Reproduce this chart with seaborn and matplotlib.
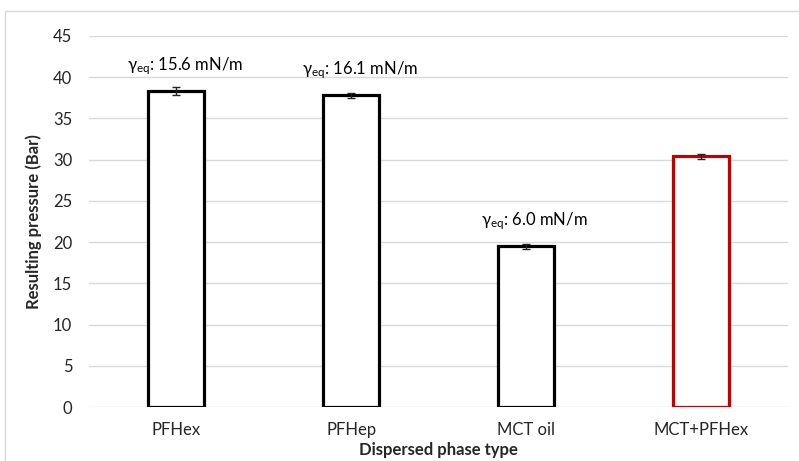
import pandas as pd
import seaborn as sns
import matplotlib.pyplot as plt
import matplotlib.patches as mpatches

# --- data ---
phases = ["PFHex", "PFHep", "MCT oil", "MCT+PFHex"]
pressure = [38.3, 37.8, 19.5, 30.4]
pressure_err = [0.5, 0.3, 0.3, 0.3]
edge_colors = ["black", "black", "black", "#C00000"]
gamma_labels = ["15.6", "16.1", "6.0", None]

df = pd.DataFrame({"phase": phases, "pressure": pressure})

sns.set_style("white")
plt.rcParams["font.family"] = ["Lato", "DejaVu Sans"]
plt.rcParams["mathtext.fontset"] = "custom"
plt.rcParams["mathtext.rm"] = "Lato"
plt.rcParams["mathtext.it"] = "Lato:italic"
plt.rcParams["mathtext.bf"] = "Lato:bold"

fig = plt.figure(figsize=(7.99, 4.61), dpi=100)
ax = fig.add_axes([89 / 799, 1 - 407 / 461, 699 / 799, 371 / 461])

sns.barplot(data=df, x="phase", y="pressure", color="white",
            width=0.32, errorbar=None, ax=ax, zorder=3)

for bar, ec in zip(ax.patches, edge_colors):
    bar.set_facecolor("white")
    bar.set_edgecolor(ec)
    bar.set_linewidth(2.3)

ax.errorbar(range(len(phases)), pressure, yerr=pressure_err, fmt="none",
            ecolor="#222222", elinewidth=1, capsize=3, capthick=1, zorder=4)

# surface tension notes
for i, (val, g) in enumerate(zip(pressure, gamma_labels)):
    if g is None:
        continue
    ax.text(i + 0.05, val + 3.0, r"$\mathrm{\gamma}_{\mathrm{eq}}$: " + g + " mN/m",
            ha="center", va="center", fontsize=12, color="black")

ax.set_ylim(0, 45)
ax.set_yticks(range(0, 46, 5))
ax.set_xlim(-0.5, 3.5)
ax.yaxis.grid(True, color="#d9d9d9", linewidth=1)
ax.set_axisbelow(True)
for s in ax.spines.values():
    s.set_visible(False)
ax.tick_params(axis="both", length=0, labelsize=12)
ax.tick_params(axis="y", pad=12)
ax.tick_params(axis="x", pad=11)

ax.set_ylabel("Resulting pressure (Bar)", fontsize=12, fontweight="bold", labelpad=8)
ax.set_xlabel("Dispersed phase type", fontsize=12, fontweight="bold", labelpad=3)

# light chart-area border (cut off at right and bottom)
fig.patches.append(mpatches.Rectangle((5 / 799, -0.2), 1.2, 1 - 11 / 461 + 0.2,
                                      transform=fig.transFigure, fill=False,
                                      edgecolor="#d9d9d9", linewidth=1))

plt.savefig("out.png", dpi=100)
